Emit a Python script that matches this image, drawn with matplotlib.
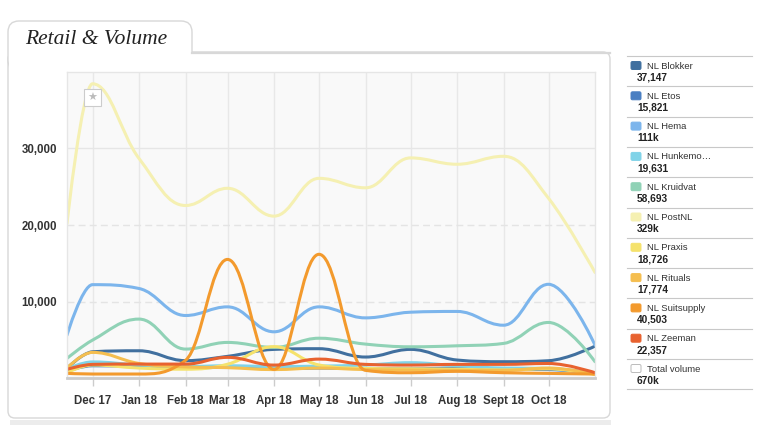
import datetime as dt
import matplotlib
matplotlib.use("Agg")
import matplotlib.pyplot as plt
import matplotlib.dates as mdates
from matplotlib.path import Path
from matplotlib.patches import PathPatch, FancyBboxPatch, Rectangle

# ---- data ----
dates = [dt.date(2017, 11, 14)] + [dt.date(2017, 12, 1)] + \
        [dt.date(2018, m, 1) for m in range(1, 12)]
tick_dates = dates[1:12]
tick_labels = ["Dec 17", "Jan 18", "Feb 18", "Mar 18", "Apr 18", "May 18",
               "Jun 18", "Jul 18", "Aug 18", "Sept 18", "Oct 18"]

series_names = ["NL Blokker", "NL Etos", "NL Hema", "NL Hunkemo…", "NL Kruidvat",
                "NL PostNL", "NL Praxis", "NL Rituals", "NL Suitsupply", "NL Zeeman"]
series_totals = ["37,147", "15,821", "111k", "19,631", "58,693",
                 "329k", "18,726", "17,774", "40,503", "22,357"]
total_name = "Total volume"
total_value = "670k"

blokker = [1260, 3430, 3560, 2270, 2830, 3740, 3830, 2740, 3740, 2350, 2130, 2260, 4170]
etos = [900, 1600, 1500, 1300, 1400, 1250, 1300, 1250, 1200, 1300, 1150, 1100, 650]
hema = [5600, 12200, 11700, 8170, 9300, 6040, 9300, 7860, 8600, 8700, 6900, 12250, 4300]
hunkemoller = [1200, 2100, 1700, 1500, 1600, 1500, 1550, 1700, 2000, 1600, 1300, 1250, 600]
kruidvat = [2560, 4950, 7700, 3780, 4650, 4000, 5200, 4430, 4080, 4210, 4520, 7260, 2130]
postnl = [20200, 38460, 28700, 22550, 24800, 21160, 26100, 24860, 28770, 27940, 28980, 23500, 13800]
praxis = [700, 1700, 1300, 1150, 1800, 4100, 1700, 1250, 1200, 1150, 1050, 1200, 450]
rituals = [1300, 3350, 1900, 1450, 1350, 1100, 1300, 1100, 1050, 1000, 1000, 1300, 500]
suitsupply = [610, 520, 520, 2300, 15500, 1130, 16170, 1000, 690, 870, 690, 600, 520]
zeeman = [1130, 1780, 1820, 1820, 2700, 1690, 2470, 1780, 1690, 1780, 1780, 1900, 690]

series = [blokker, etos, hema, hunkemoller, kruidvat, postnl, praxis, rituals, suitsupply, zeeman]
colors = ["#41709f", "#4a7fc2", "#7cb5ec", "#80d3e8", "#90d2b6",
          "#f5f0b2", "#f5e26c", "#f5be4f", "#f39a2d", "#e8622f"]


def spline_path(xs, ys, smoothing=1.5):
    # highcharts-style spline: bezier control points around each point
    n = len(xs)
    left = [None] * n
    right = [None] * n
    for i in range(n):
        px, py = xs[i], ys[i]
        if i == 0 or i == n - 1:
            left[i] = right[i] = (px, py)
            continue
        lx, ly = xs[i - 1], ys[i - 1]
        nx, ny = xs[i + 1], ys[i + 1]
        d = smoothing + 1
        lcx, lcy = (smoothing * px + lx) / d, (smoothing * py + ly) / d
        rcx, rcy = (smoothing * px + nx) / d, (smoothing * py + ny) / d
        if rcx != lcx:
            corr = (rcy - lcy) * (rcx - px) / (rcx - lcx) + py - rcy
            lcy += corr
            rcy += corr
        if lcy > ly and lcy > py:
            lcy = max(ly, py); rcy = 2 * py - lcy
        elif lcy < ly and lcy < py:
            lcy = min(ly, py); rcy = 2 * py - lcy
        if rcy > ny and rcy > py:
            rcy = max(ny, py); lcy = 2 * py - rcy
        elif rcy < ny and rcy < py:
            rcy = min(ny, py); lcy = 2 * py - rcy
        left[i] = (lcx, lcy)
        right[i] = (rcx, rcy)
    verts = [(xs[0], ys[0])]
    codes = [Path.MOVETO]
    for i in range(1, n):
        verts += [right[i - 1], left[i], (xs[i], ys[i])]
        codes += [Path.CURVE4] * 3
    return Path(verts, codes)


W, H = 760, 428
fig = plt.figure(figsize=(W / 100, H / 100), dpi=100)
plt.rcParams['font.family'] = ['Liberation Sans', 'DejaVu Sans']

# background layer in pixel coords
bg = fig.add_axes([0, 0, 1, 1], zorder=0)
bg.set_xlim(0, W)
bg.set_ylim(H, 0)
bg.axis('off')

bg.add_patch(Rectangle((10, 420), 601, 5, facecolor="#ececec", edgecolor="none"))
bg.add_patch(FancyBboxPatch((8, 52), 602, 366, boxstyle="round,pad=0,rounding_size=7",
                            facecolor="white", edgecolor="#d8d8d8", lw=1))
bg.add_patch(FancyBboxPatch((8, 21), 184, 50, boxstyle="round,pad=0,rounding_size=11",
                            facecolor="white", edgecolor="#d8d8d8", lw=1))
bg.add_patch(Rectangle((8.6, 53), 184, 20, facecolor="white", edgecolor="none"))
bg.plot([192, 610], [52.5, 52.5], color="#d8d8d8", lw=1.6)
bg.text(25, 44, "Retail & Volume", family="Liberation Serif", style="italic",
        fontsize=15.5, color="#222222", va="baseline")

# legend on the right
sep_y = [56 + 30.3 * k for k in range(12)]
for y in sep_y:
    bg.plot([627, 752], [y, y], color="#c8c8c8", lw=0.8)
leg_names = series_names + [total_name]
leg_vals = series_totals + [total_value]
leg_cols = colors + ["white"]
for k, (nm, val, col) in enumerate(zip(leg_names, leg_vals, leg_cols)):
    y0 = sep_y[k]
    bg.add_patch(FancyBboxPatch((631, y0 + 5.5), 10, 8, boxstyle="round,pad=0,rounding_size=1.5",
                                facecolor=col, edgecolor="#bbbbbb" if col == "white" else col, lw=0.7))
    bg.text(647, y0 + 10, nm, fontsize=6.8, color="#333333", va="center")
    bg.text(637, y0 + 21.5, val, fontsize=7.3, fontweight="bold", color="#222222", va="center")

# main plot
ax = fig.add_axes([67 / W, 1 - 378 / H, (595 - 67) / W, (378 - 72) / H], zorder=1)
ax.set_facecolor("#f9f9f9")
xnum = mdates.date2num(dates)
ax.set_xlim(xnum[0], xnum[-1])
ax.set_ylim(0, 40000)

tnum = mdates.date2num(tick_dates)
for t in tnum:
    ax.axvline(t, color="#e8e8e8", lw=1, zorder=0)
for yv in [10000, 20000]:
    ax.axhline(yv, color="#e4e4e4", lw=1, ls=(0, (5, 3)), zorder=0)
ax.axhline(30000, color="#e6e6e6", lw=1, zorder=0)

for vals, col in zip(series, colors):
    p = spline_path(list(xnum), vals)
    ax.add_patch(PathPatch(p, facecolor="none", edgecolor=col, lw=2.2,
                           capstyle="round", joinstyle="round", zorder=2))

# flag on the PostNL peak
ax.annotate("★", xy=(xnum[1], postnl[1]), xytext=(0, -10), textcoords="offset points",
            ha="center", va="center", fontsize=8, color="#bbbbbb", family="DejaVu Sans",
            bbox=dict(boxstyle="square,pad=0.3", fc="white", ec="#cccccc", lw=0.8), zorder=3)

ax.set_xticks(tnum)
ax.set_xticklabels(tick_labels)
ax.set_yticks([10000, 20000, 30000])
ax.set_yticklabels(["10,000", "20,000", "30,000"])
ax.tick_params(axis='x', length=6, width=1, color="#cccccc", pad=6,
               labelsize=8.3, labelcolor="#333333")
ax.tick_params(axis='y', length=0, pad=7, labelsize=8.3, labelcolor="#333333")
for lab in ax.get_xticklabels() + ax.get_yticklabels():
    lab.set_fontweight("bold")

for s in ["left", "top", "right"]:
    ax.spines[s].set_color("#e6e6e6")
    ax.spines[s].set_linewidth(1)
ax.spines["bottom"].set_color("#cccccc")
ax.spines["bottom"].set_linewidth(2)

fig.savefig("out.png", dpi=100)
